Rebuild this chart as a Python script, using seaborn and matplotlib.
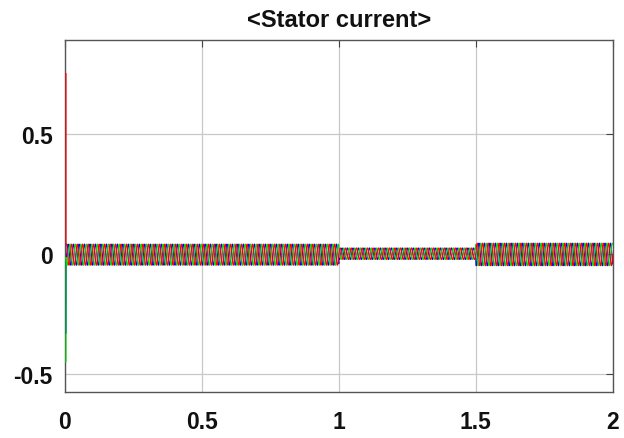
import numpy as np
import pandas as pd
import matplotlib as mpl
import matplotlib.pyplot as plt
import seaborn as sns
mpl.use("Agg")

# values
segment_start = [0.0, 1.0, 1.5]          # s
segment_end = [1.0, 1.5, 2.0]            # s
segment_amp = [0.044, 0.024, 0.047]      # A, peak of each phase
segment_offset = [-0.004, 0.0, -0.003]
supply_freq = 50.0                       # Hz
phase_names = ["ib", "ic", "ia"]
phase_shift_deg = [-120.0, 120.0, 0.0]
phase_colors = ["#0000ff", "#00e000", "#ff0000"]
start_spike = [-0.33, -0.45, 0.75]       # inrush value of each phase at t=0
spike_len = 0.004                        # s
x_ticks = [0, 0.5, 1, 1.5, 2]
x_ticklabels = ["0", "0.5", "1", "1.5", "2"]
y_ticks = [-0.5, 0, 0.5]
y_ticklabels = ["-0.5", "0", "0.5"]

sns.set_style("white")
plt.rcParams["font.family"] = ["Liberation Sans", "DejaVu Sans"]
plt.rcParams["font.weight"] = "bold"
plt.rcParams["text.color"] = "#111111"
plt.rcParams["xtick.labelcolor"] = "#111111"
plt.rcParams["ytick.labelcolor"] = "#111111"

t = np.arange(0, 2.0 + 1e-9, 1e-4)
frames = []
for name, shift, spike in zip(phase_names, phase_shift_deg, start_spike):
    y = np.zeros_like(t)
    for t0, t1, amp, off in zip(segment_start, segment_end, segment_amp, segment_offset):
        m = (t >= t0) & (t <= t1)
        y[m] = off + amp * np.sin(2 * np.pi * supply_freq * t[m] + np.deg2rad(shift))
    y[t <= spike_len] = spike
    frames.append(pd.DataFrame({"t": t, "i": y, "phase": name}))
df = pd.concat(frames, ignore_index=True)

fig = plt.figure(figsize=(6.24, 4.39), dpi=100)
ax = fig.add_axes([0.104, 0.105, 0.878, 0.802])
sns.lineplot(data=df, x="t", y="i", hue="phase", palette=dict(zip(phase_names, phase_colors)),
             linewidth=0.8, ax=ax, legend=False, estimator=None, sort=False, zorder=3)

ax.set_xlim(0, 2)
ax.set_ylim(-0.575, 0.89)
ax.set_xticks(x_ticks)
ax.set_xticklabels(x_ticklabels)
ax.set_yticks(y_ticks)
ax.set_yticklabels(y_ticklabels)
ax.tick_params(axis="both", labelsize=16.5, direction="in", length=5, color="#444444",
               top=True, right=True, labelcolor="#111111")
ax.tick_params(axis="y", pad=9)
ax.tick_params(axis="x", pad=13)
ax.grid(True, color="#c8c8c8", linewidth=0.9)
ax.set_axisbelow(True)
for s in ax.spines.values():
    s.set_color("#555555")
    s.set_linewidth(1.0)
ax.set_xlabel("")
ax.set_ylabel("")
ax.set_title("<Stator current>", fontsize=17, fontweight="bold", pad=10, color="#111111")

fig.savefig("out.png", dpi=100)
